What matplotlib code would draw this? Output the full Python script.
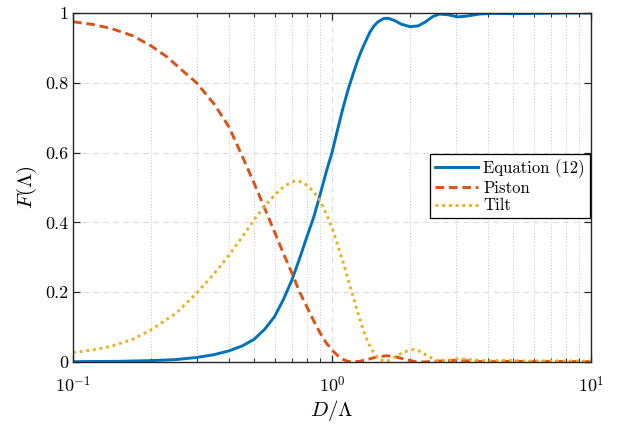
import numpy as np
import matplotlib
matplotlib.use("Agg")
import matplotlib.pyplot as plt
from matplotlib.ticker import LogLocator, NullFormatter, FixedLocator

# values
eq_D = [0.1, 0.15, 0.2, 0.25, 0.3, 0.35, 0.4, 0.45, 0.5, 0.55, 0.6, 0.65, 0.7,
        0.75, 0.8, 0.85, 0.9, 0.95, 1.0, 1.05, 1.1, 1.15, 1.2, 1.25, 1.3, 1.35,
        1.4, 1.45, 1.5, 1.58, 1.65, 1.75, 1.85, 2.0, 2.15, 2.3, 2.45, 2.6, 2.8,
        3.05, 3.3, 3.7, 4.2, 5.0, 6.0, 8.0, 10.0]
eq_F = [0.001, 0.002, 0.004, 0.007, 0.013, 0.021, 0.032, 0.046, 0.065, 0.094,
        0.13, 0.18, 0.235, 0.297, 0.359, 0.415, 0.48, 0.545, 0.60, 0.665, 0.725,
        0.777, 0.82, 0.86, 0.893, 0.92, 0.945, 0.962, 0.974, 0.984, 0.985, 0.978,
        0.968, 0.961, 0.963, 0.975, 0.99, 0.997, 0.995, 0.989, 0.991, 0.997,
        0.999, 0.998, 0.999, 1.0, 1.0]

piston_D = [0.1, 0.12, 0.14, 0.17, 0.2, 0.23, 0.26, 0.3, 0.35, 0.4, 0.45, 0.5,
            0.55, 0.6, 0.65, 0.7, 0.75, 0.8, 0.85, 0.9, 0.95, 1.0, 1.05, 1.1,
            1.15, 1.2, 1.28, 1.38, 1.5, 1.63, 1.78, 1.95, 2.1, 2.25, 2.5, 2.8,
            3.05, 3.4, 3.8, 4.3, 5.0, 6.0, 7.0, 8.5, 10.0]
piston_F = [0.975, 0.967, 0.956, 0.935, 0.906, 0.875, 0.84, 0.80, 0.74, 0.674,
            0.59, 0.513, 0.44, 0.373, 0.31, 0.255, 0.20, 0.158, 0.118, 0.083,
            0.055, 0.034, 0.019, 0.008, 0.002, 0.0, 0.002, 0.008, 0.015, 0.018,
            0.014, 0.006, 0.001, 0.0, 0.002, 0.004, 0.005, 0.003, 0.001, 0.001,
            0.002, 0.001, 0.0015, 0.001, 0.001]

tilt_D = [0.1, 0.12, 0.139, 0.17, 0.2, 0.25, 0.3, 0.35, 0.4, 0.45, 0.5, 0.55,
          0.6, 0.65, 0.7, 0.73, 0.77, 0.8, 0.85, 0.9, 0.95, 1.0, 1.05, 1.105,
          1.15, 1.21, 1.26, 1.32, 1.38, 1.44, 1.5, 1.58, 1.65, 1.75, 1.88, 2.06,
          2.2, 2.35, 2.54, 2.75, 3.1, 3.5, 4.0, 4.6, 5.5, 6.5, 8.0, 10.0]
tilt_F = [0.027, 0.035, 0.044, 0.065, 0.092, 0.14, 0.197, 0.252, 0.306, 0.358,
          0.407, 0.447, 0.478, 0.502, 0.516, 0.52, 0.515, 0.506, 0.488, 0.462,
          0.425, 0.385, 0.337, 0.285, 0.24, 0.185, 0.14, 0.092, 0.055, 0.03,
          0.012, 0.003, 0.004, 0.014, 0.028, 0.036, 0.03, 0.016, 0.004, 0.004,
          0.01, 0.006, 0.003, 0.005, 0.003, 0.003, 0.003, 0.002]

y_ticks = [0, 0.2, 0.4, 0.6, 0.8, 1]
y_labels = ["0", "0.2", "0.4", "0.6", "0.8", "1"]
x_ticks = [0.1, 1, 10]
x_labels = [r"$10^{-1}$", r"$10^{0}$", r"$10^{1}$"]

plt.rcParams["font.family"] = ["cmr10", "DejaVu Serif"]
plt.rcParams["mathtext.fontset"] = "cm"
plt.rcParams["axes.formatter.use_mathtext"] = True


def main():
    fig = plt.figure(figsize=(6.17, 4.24), dpi=100)
    ax = fig.add_axes([0.1183, 0.1462, 0.8396, 0.8231])

    ax.plot(eq_D, eq_F, color="#0072BD", lw=2.1, label="Equation (12)")
    ax.plot(piston_D, piston_F, color="#D95319", lw=2.1,
            linestyle=(0, (3.0, 1.6)), label="Piston")
    ax.plot(tilt_D, tilt_F, color="#EDB120", lw=2.1,
            linestyle=(0, (1.0, 1.3)), label="Tilt")

    ax.set_xscale("log")
    ax.set_xlim(0.1, 10)
    ax.set_ylim(0, 1)

    ax.xaxis.set_major_locator(FixedLocator(x_ticks))
    ax.set_xticklabels(x_labels)
    ax.xaxis.set_minor_locator(LogLocator(base=10, subs=np.arange(2, 10)))
    ax.xaxis.set_minor_formatter(NullFormatter())
    ax.set_yticks(y_ticks)
    ax.set_yticklabels(y_labels)

    # grid: dashed majors, dotted minors
    ax.grid(True, which="major", axis="both", color="#dcdcdc",
            linestyle=(0, (5, 4)), lw=0.8)
    ax.grid(True, which="minor", axis="x", color="#c4c4c4",
            linestyle=(0, (1, 2)), lw=0.7)
    ax.set_axisbelow(True)

    ax.tick_params(which="both", direction="in", top=True, right=True,
                   labelsize=13, color="#262626")
    ax.tick_params(which="major", length=5, width=0.9)
    ax.tick_params(which="minor", length=3, width=0.7)
    ax.tick_params(axis="x", which="major", pad=9)
    for s in ax.spines.values():
        s.set_color("#262626")
        s.set_linewidth(1.0)

    ax.set_xlabel(r"$D/\Lambda$", fontsize=15, labelpad=2)
    ax.set_ylabel(r"$F(\Lambda)$", fontsize=15, labelpad=4)

    leg = ax.legend(loc="upper left", bbox_to_anchor=(0.689, 0.596),
                    fontsize=12, fancybox=False, edgecolor="black",
                    framealpha=1, handlelength=2.6, handletextpad=0.3,
                    borderpad=0.3, labelspacing=0.15, borderaxespad=0)
    leg.get_frame().set_linewidth(0.9)

    fig.savefig("out.png", dpi=100)


if __name__ == "__main__":
    main()
